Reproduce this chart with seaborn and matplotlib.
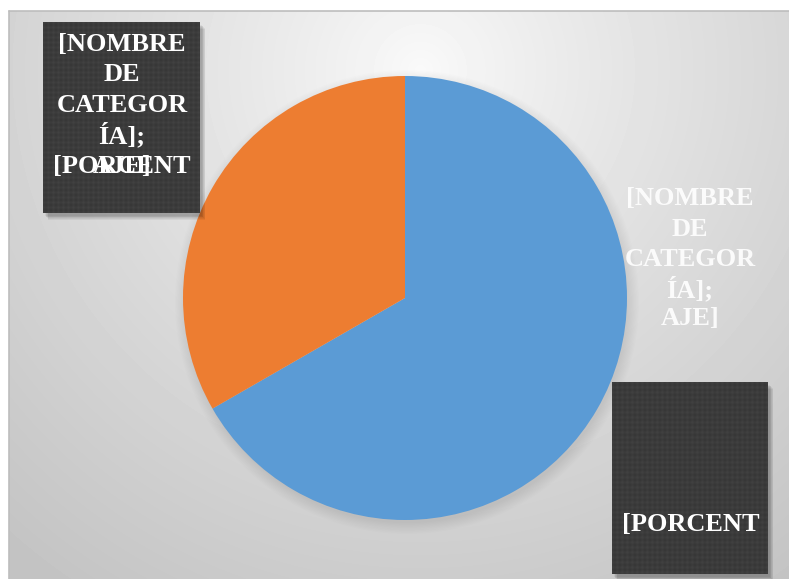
import numpy as np
import matplotlib
matplotlib.use("Agg")
import matplotlib.pyplot as plt
from matplotlib.patches import Rectangle
import seaborn as sns

# --- data -------------------------------------------------------------
categories = ["Categoría 1", "Categoría 2"]
values = [66.7, 33.3]
slice_colors = ["#5B9BD5", "#ED7D31"]

# placeholder data-label text (wrapped as it appears in each label)
label_right_lines = ["[NOMBRE", "DE", "CATEGOR", "ÍA];", "AJE]"]
label_right_box = "[PORCENT"
label_left_lines = ["[NOMBRE", "DE", "CATEGOR", "ÍA];"]
label_left_last = ["[PORCENT", "AJE]"]

# --- style ------------------------------------------------------------
sns.set_theme(style="white")
palette = sns.color_palette(slice_colors)
plt.rcParams["font.family"] = ["Liberation Serif", "DejaVu Serif"]

W, H, DPI = 789, 579, 100
fig = plt.figure(figsize=(W / DPI, H / DPI), dpi=DPI)
fig.patch.set_facecolor("white")

# background axes in pixel coordinates (y grows downwards)
bg = fig.add_axes([0, 0, 1, 1])
bg.set_xlim(0, W)
bg.set_ylim(H, 0)
bg.axis("off")

# chart area: soft radial gradient, light at top centre
x0, y0 = 9, 11
yy, xx = np.mgrid[y0:H, x0:W]
d = np.hypot(xx - 420, yy - 70)
t = np.clip(d / 620.0, 0, 1) ** 0.85
shade = (250 - 54 * t) / 255.0
bg.imshow(shade, cmap="gray", vmin=0, vmax=1, extent=(x0, W, H, y0),
          interpolation="bilinear", zorder=0)
bg.plot([x0, x0], [H, y0], color="#bdbdbd", lw=1.2, zorder=1)
bg.plot([x0, W], [y0, y0], color="#bdbdbd", lw=1.2, zorder=1)

# faint shadow under the pie
cx, cy, r = 405, 298, 222
for k in range(10):
    rr = r + 10 - k * 1.2
    bg.add_patch(plt.Circle((cx + 2, cy + 4), rr, color="black",
                            alpha=0.008, lw=0, zorder=2))

# --- pie --------------------------------------------------------------
ax = fig.add_axes([(cx - r) / W, (H - cy - r) / H, 2 * r / W, 2 * r / H])
ax.pie(values, colors=palette, startangle=90, counterclock=False,
       wedgeprops=dict(linewidth=0))
ax.set_xlim(-1, 1)
ax.set_ylim(-1, 1)
ax.set_aspect("equal")
ax.axis("off")

# --- data labels ------------------------------------------------------
ov = fig.add_axes([0, 0, 1, 1], zorder=5)
ov.axis("off")
ov.patch.set_alpha(0)


def textured_box(axis, left, top, right, bottom):
    # soft drop shadow
    for k in range(6):
        axis.add_patch(Rectangle((left + 2 + k * 0.7, top + 3 + k * 0.7),
                                 right - left, bottom - top,
                                 color="black", alpha=0.05, lw=0, zorder=1))
    py, px = np.mgrid[0:bottom - top, 0:right - left].astype(float)
    dots = (np.cos(2 * np.pi * (px + py) / 10.0) *
            np.cos(2 * np.pi * (px - py) / 10.0))
    tex = 0.235 + 0.022 * dots
    axis.imshow(tex, cmap="gray", vmin=0, vmax=1,
                extent=(left, right, bottom, top),
                interpolation="bilinear", zorder=2)


FS = 19
PITCH = 30.5
txt = dict(color="white", fontsize=FS, fontweight="bold",
           ha="center", va="center", zorder=3)

# label of the orange slice, in a dark box at the upper left
textured_box(ov, 43, 22, 200, 213)
for i, line in enumerate(label_left_lines):
    ov.text(122, 44 + i * PITCH, line, **txt)
for line in label_left_last:
    ov.text(122, 44 + len(label_left_lines) * PITCH, line, **txt)

# label of the blue slice: wrapped text beside the pie, rest in a dark box
for i, line in enumerate(label_right_lines):
    ov.text(690, 199 + i * 30, line, alpha=0.9, **txt)
textured_box(ov, 612, 382, 768, 574)
ov.text(691, 524, label_right_box, **txt)

ov.set_xlim(0, W)
ov.set_ylim(H, 0)
bg.set_xlim(0, W)
bg.set_ylim(H, 0)

fig.savefig("out.png", dpi=DPI, facecolor=fig.get_facecolor())
